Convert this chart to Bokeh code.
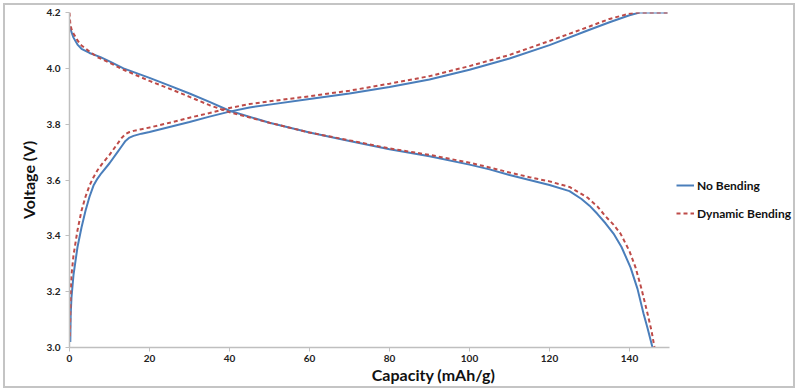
from bokeh.plotting import figure
from bokeh.models import (Legend, LegendItem, SingleIntervalTicker, NumeralTickFormatter,
                          Range1d)
from bokeh.embed import file_html
from bokeh.resources import INLINE

# ---- data ----
cap_charge_nb = [0.2, 0.3, 0.5, 1, 2, 3, 4, 5, 6, 7, 8, 10, 12, 13, 14, 15, 16, 18, 20, 25, 30,
                 35, 40, 45, 50, 60, 70, 80, 90, 100, 110, 120, 130, 135, 140, 142.5, 149.5]
v_charge_nb = [3.02, 3.12, 3.18, 3.26, 3.36, 3.43, 3.49, 3.54, 3.58, 3.605, 3.625, 3.66, 3.70, 3.72,
               3.74, 3.752, 3.758, 3.766, 3.772, 3.79, 3.808, 3.827, 3.845, 3.86, 3.87, 3.89, 3.91,
               3.933, 3.96, 3.995, 4.035, 4.083, 4.138, 4.165, 4.19, 4.2, 4.2]

cap_charge_db = [0.1, 0.3, 0.5, 1, 2, 3, 4, 5, 6, 7, 8, 10, 12, 13, 14, 15, 16, 18, 20, 25, 30,
                 35, 40, 45, 50, 60, 70, 80, 90, 100, 110, 120, 130, 135, 140, 142, 149.5]
v_charge_db = [3.04, 3.2, 3.26, 3.33, 3.42, 3.49, 3.54, 3.58, 3.61, 3.635, 3.655, 3.69, 3.73, 3.75,
               3.765, 3.772, 3.776, 3.782, 3.788, 3.805, 3.823, 3.84, 3.858, 3.872, 3.882, 3.9, 3.92,
               3.945, 3.972, 4.008, 4.048, 4.098, 4.15, 4.177, 4.196, 4.2, 4.2]

cap_dis_nb = [0, 0.5, 1, 2, 3, 5, 7.75, 10, 13.5, 20, 25, 30, 35, 40, 50, 60, 70, 80, 90, 100,
              105, 110, 115, 120, 125, 128, 130, 132, 134, 136, 138, 140.25, 142, 143.5, 144.5, 145.75]
v_dis_nb = [4.15, 4.13, 4.11, 4.085, 4.07, 4.055, 4.04, 4.025, 4.0, 3.966, 3.938, 3.91, 3.88, 3.848,
            3.805, 3.77, 3.74, 3.71, 3.685, 3.655, 3.638, 3.618, 3.6, 3.582, 3.56, 3.532, 3.508,
            3.478, 3.445, 3.408, 3.36, 3.287, 3.21, 3.122, 3.07, 3.0]

cap_dis_db = [0, 0.2, 0.5, 1, 2, 3, 5, 7, 10, 13.5, 20, 25, 30, 35, 40, 50, 60, 70, 80, 90, 100,
              105, 110, 115, 120, 125, 129.5, 132, 134, 136, 137.75, 140, 141.5, 143, 144.5, 145.5, 146.25]
v_dis_db = [4.2, 4.16, 4.14, 4.125, 4.1, 4.082, 4.06, 4.04, 4.02, 3.995, 3.955, 3.927, 3.898, 3.868,
            3.843, 3.805, 3.77, 3.742, 3.713, 3.69, 3.662, 3.645, 3.627, 3.61, 3.595, 3.575, 3.537,
            3.505, 3.47, 3.44, 3.408, 3.345, 3.287, 3.21, 3.122, 3.06, 3.0]

x_axis_bounds = (0, 150)
x_ticks_interval = 20
y_ticks_interval = 0.2

BLUE = "#4A7EBB"
RED = "#BE4B48"
AXIS = "#BFBFBF"
FONT = "Lato"

# frame extends to the right so the legend can sit beside the curves; the axis stops at 150
p = figure(width=792, height=385, output_backend="svg", toolbar_location=None,
           x_range=Range1d(0, 182), y_range=Range1d(3.0, 4.2),
           min_border_left=64, min_border_right=0, min_border_top=7, min_border_bottom=43)
p.styles = {"border": "2px solid #C4C4C4", "margin": "3px"}
p.outline_line_color = None
p.xgrid.grid_line_color = None
p.ygrid.grid_line_color = None
p.background_fill_color = "white"
p.border_fill_color = "white"

b1 = p.line(cap_charge_nb, v_charge_nb, line_color=BLUE, line_width=2)
b2 = p.line(cap_dis_nb, v_dis_nb, line_color=BLUE, line_width=2)
r1 = p.line(cap_charge_db, v_charge_db, line_color=RED, line_width=2, line_dash="4 3")
r2 = p.line(cap_dis_db, v_dis_db, line_color=RED, line_width=2, line_dash="4 3")

for ax in (p.xaxis[0], p.yaxis[0]):
    ax.axis_line_color = AXIS
    ax.axis_line_width = 1.5
    ax.major_tick_line_color = AXIS
    ax.major_tick_out = 4
    ax.major_tick_in = 0
    ax.minor_tick_line_color = None
    ax.major_label_text_font = FONT
    ax.major_label_text_font_style = "bold"
    ax.major_label_text_font_size = "10px"
    ax.major_label_text_color = "#222222"
    ax.axis_label_text_font = FONT
    ax.axis_label_text_font_style = "bold"
    ax.axis_label_text_font_size = "16px"
    ax.axis_label_text_color = "#111111"

p.xaxis.bounds = x_axis_bounds
p.xaxis.ticker = SingleIntervalTicker(interval=x_ticks_interval)
p.yaxis.ticker = SingleIntervalTicker(interval=y_ticks_interval)
p.yaxis.formatter = NumeralTickFormatter(format="0.0")
p.xaxis.axis_label = "Capacity (mAh/g)"
p.yaxis.axis_label = "Voltage (V)"
p.xaxis.major_label_standoff = 3
p.xaxis.axis_label_standoff = 0
p.yaxis.major_label_standoff = 5
p.yaxis.axis_label_standoff = 6

legend = Legend(items=[LegendItem(label="No Bending", renderers=[b1]),
                       LegendItem(label="Dynamic Bending", renderers=[r1])],
                location=(607, 124), orientation="vertical",
                border_line_color=None, background_fill_alpha=0,
                padding=0, margin=0, spacing=8,
                glyph_width=18, glyph_height=20, label_height=20, label_standoff=3,
                label_text_font=FONT, label_text_font_style="bold",
                label_text_font_size="12px", label_text_color="#111111")
p.add_layout(legend, "center")

open("out.html", "w").write(file_html(p, INLINE))
